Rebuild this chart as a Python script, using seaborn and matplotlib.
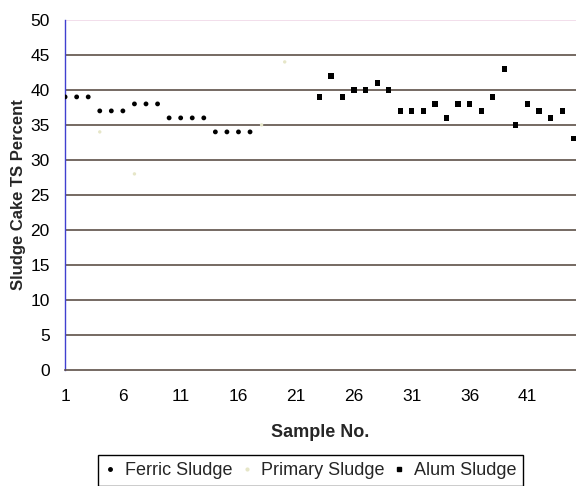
import matplotlib
matplotlib.use("Agg")
import matplotlib.pyplot as plt
import seaborn as sns
import pandas as pd
from matplotlib.lines import Line2D

# Data
ferric_samples = [1, 2, 3, 4, 5, 6, 7, 8, 9, 10, 11, 12, 13, 14, 15, 16, 17]
ferric_values = [39, 39, 39, 37, 37, 37, 38, 38, 38, 36, 36, 36, 36, 34, 34, 34, 34]

primary_samples = [4, 7, 18, 20]
primary_values = [34, 28, 35, 44]

alum_samples = [23, 24, 25, 26, 27, 28, 29, 30, 31, 32, 33, 34, 35, 36, 37, 38,
                39, 40, 41, 42, 43, 44, 45]
alum_values = [39, 42, 39, 40, 40, 41, 40, 37, 37, 37, 38, 36, 38, 38, 37, 39,
               43, 35, 38, 37, 36, 37, 33]

x_ticks = [1, 6, 11, 16, 21, 26, 31, 36, 41]
y_ticks = [0, 5, 10, 15, 20, 25, 30, 35, 40, 45, 50]

sns.set_theme(style="white")
plt.rcParams['font.family'] = ['Liberation Sans', 'DejaVu Sans']

fig = plt.figure(figsize=(5.76, 4.86), dpi=100)
ax = fig.add_axes([0.113, 0.239, 0.887, 0.72])

ferric = pd.DataFrame({"x": ferric_samples, "y": ferric_values})
primary = pd.DataFrame({"x": primary_samples, "y": primary_values})
alum = pd.DataFrame({"x": alum_samples, "y": alum_values})

# gridlines
for v in y_ticks:
    if v == 0:
        continue
    col = '#f0d8e8' if v == 50 else '#5e5048'
    ax.axhline(v, color=col, lw=1.2, zorder=1)

sns.scatterplot(data=ferric, x="x", y="y", ax=ax, marker='o', s=12,
                color='black', edgecolor='none', zorder=3, legend=False)
sns.scatterplot(data=primary, x="x", y="y", ax=ax, marker='o', s=6,
                color='#e6e6c8', edgecolor='none', zorder=3, legend=False)
sns.scatterplot(data=alum, x="x", y="y", ax=ax, marker='s', s=14,
                color='black', edgecolor='none', zorder=3, legend=False)

ax.set_xlim(1, 45.2)
ax.set_ylim(0, 50)
ax.set_xticks(x_ticks)
ax.set_yticks(y_ticks)
ax.set_xticklabels([str(t) for t in x_ticks])
ax.set_yticklabels([str(t) for t in y_ticks])

for side in ['top', 'right']:
    ax.spines[side].set_visible(False)
ax.spines['left'].set_color('#4040d0')
ax.spines['left'].set_linewidth(1.0)
ax.spines['bottom'].set_color('#5e5048')
ax.spines['bottom'].set_linewidth(1.2)

ax.tick_params(axis='both', which='both', direction='out', length=5, width=1,
               labelsize=12.5, colors='black')
ax.tick_params(axis='y', color='#444444', pad=6)
ax.tick_params(axis='x', color='#444444', pad=9)

ax.set_xlabel("Sample No.", fontsize=13, fontweight='bold', labelpad=14)
ax.set_ylabel("Sludge Cake TS Percent", fontsize=12, fontweight='bold', labelpad=3)

handles = [
    Line2D([], [], marker='o', color='black', linestyle='none', markersize=2.5),
    Line2D([], [], marker='o', color='#e6e6c8', linestyle='none', markersize=2),
    Line2D([], [], marker='s', color='black', linestyle='none', markersize=3.5),
]
leg = fig.legend(handles, ["Ferric Sludge", "Primary Sludge", "Alum Sludge"],
                 loc='upper center', bbox_to_anchor=(0.539, 0.064), ncol=3,
                 borderaxespad=0,
                 frameon=True, fancybox=False, framealpha=1, edgecolor='black',
                 fontsize=13, handlelength=0.6, handletextpad=0.5,
                 columnspacing=0.5, borderpad=0.4)
leg.get_frame().set_linewidth(1.0)

fig.savefig("out.png", dpi=100)
